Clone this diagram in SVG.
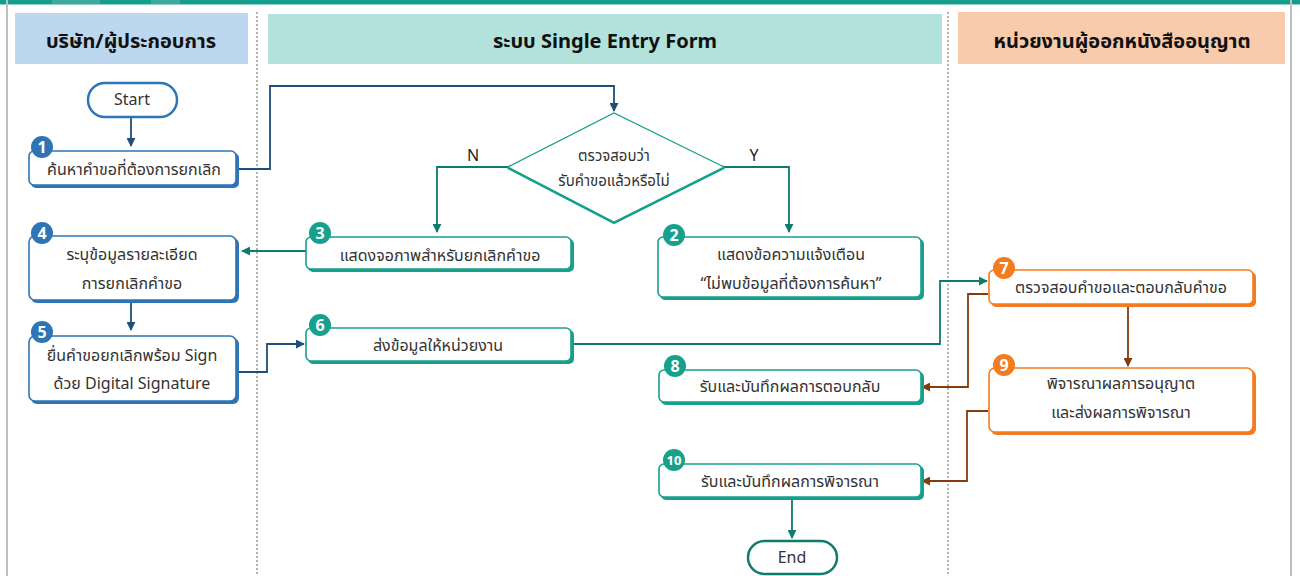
<svg xmlns="http://www.w3.org/2000/svg" width="1300" height="576" viewBox="0 0 1300 576">
<defs>
<marker id="mb" viewBox="0 0 10 10" refX="9" refY="5" markerWidth="5" markerHeight="5" orient="auto"><path d="M0,0 L10,5 L0,10 z" fill="#1f4e79"/></marker>
<marker id="mt" viewBox="0 0 10 10" refX="9" refY="5" markerWidth="5" markerHeight="5" orient="auto"><path d="M0,0 L10,5 L0,10 z" fill="#0f7b6c"/></marker>
<marker id="mo" viewBox="0 0 10 10" refX="9" refY="5" markerWidth="5" markerHeight="5" orient="auto"><path d="M0,0 L10,5 L0,10 z" fill="#843c0c"/></marker>
</defs>
<style>
text{font-family:"Noto Sans","Noto Sans Thai","Liberation Sans",sans-serif;fill:#333;text-anchor:middle;dominant-baseline:central}
.hd{font-size:20px;font-weight:bold;fill:#111}
.t{font-size:16px}
.bn{font-size:16px;font-weight:bold;fill:#fff}
.bs{font-size:13px;font-weight:bold;fill:#fff}
.card{fill:#fff;stroke-width:1.6}
.b .card{stroke:#2e75b6}.b .sh{fill:#2e75b6}.b circle{fill:#2e75b6}
.g .card{stroke:#17a08c}.g .sh{fill:#17a08c}.g circle{fill:#17a08c}
.o .card{stroke:#f47c20}.o .sh{fill:#f47c20}.o circle{fill:#f47c20}
.c{fill:none;stroke-width:1.8}
.cb{stroke:#1f4e79}.ct{stroke:#0f7b6c}.co{stroke:#843c0c}
.div{stroke:#999;stroke-width:1.5;stroke-dasharray:2 2}
</style>
<rect x="0" y="0" width="1300" height="576" fill="#fff"/>
<rect x="0" y="0" width="1300" height="4" fill="#149c8c"/>
<rect x="0" y="4" width="1300" height="1" fill="#8fd3c8"/>
<rect x="52" y="0" width="48" height="4" fill="#3fa99b"/>
<rect x="151" y="0" width="29" height="4" fill="#3fa99b"/>
<rect x="6" y="0" width="2" height="576" fill="#c0c0c0"/>
<rect x="1290" y="0" width="2" height="576" fill="#c0c0c0"/>
<line class="div" x1="257" y1="12" x2="257" y2="576"/>
<line class="div" x1="948" y1="12" x2="948" y2="576"/>

<g id="lane-company"><rect x="15" y="13" width="233" height="51" fill="#bdd7ee"/><text class="hd" x="131" y="40">บริษัท/ผู้ประกอบการ</text></g>
<g id="lane-system"><rect x="268" y="14" width="674" height="50" fill="#b3e2dc"/><text class="hd" x="605" y="40">ระบบ Single Entry Form</text></g>
<g id="lane-agency"><rect x="958" y="12" width="327" height="52" fill="#f8cbad"/><text class="hd" x="1122" y="40">หน่วยงานผู้ออกหนังสืออนุญาต</text></g>

<g id="connectors">
<path class="c cb" d="M131,117 V146" marker-end="url(#mb)"/>
<path class="c cb" d="M237,169 H270 V86 H614 V111" marker-end="url(#mb)"/>
<path class="c ct" d="M508,167 H437 V232" marker-end="url(#mt)"/>
<path class="c ct" d="M724,167 H789 V232" marker-end="url(#mt)"/>
<path class="c ct" d="M306,251 H242" marker-end="url(#mt)"/>
<path class="c cb" d="M131,302 V330" marker-end="url(#mb)"/>
<path class="c cb" d="M239,372 H267 V344 H304" marker-end="url(#mb)"/>
<path class="c ct" d="M574,344 H940 V281 H987" marker-end="url(#mt)"/>
<path class="c co" d="M1128,305 V366" marker-end="url(#mo)"/>
<path class="c co" d="M988,294 H968 V387 H922" marker-end="url(#mo)"/>
<path class="c co" d="M988,411 H967 V481 H922" marker-end="url(#mo)"/>
<path class="c ct" d="M792,499 V538" marker-end="url(#mt)"/>
<text class="t" x="473" y="155" style="fill:#222">N</text>
<text class="t" x="754" y="155" style="fill:#222">Y</text>
</g>

<g id="start"><rect x="88" y="83" width="89" height="34" rx="17" fill="#fff" stroke="#2e75b6" stroke-width="2.5"/><text class="t" x="132" y="99">Start</text></g>

<g id="n1" class="b"><rect class="sh" x="31" y="153" width="208" height="35" rx="5"/><rect class="card" x="29" y="151" width="207" height="34" rx="5"/><circle cx="42" cy="147" r="11"/><text class="bn" x="42" y="147">1</text><text class="t" x="134" y="169">ค้นหาคำขอที่ต้องการยกเลิก</text></g>

<g id="decision"><path d="M508,167 L614,222 L724,167" fill="none" stroke="#17a08c" stroke-width="4"/><path d="M508,167 L614,113 L724,167 L614,222 Z" fill="#fff" stroke="#17a08c" stroke-width="1.2"/><text class="t" x="614" y="155" style="font-size:15px">ตรวจสอบว่า</text><text class="t" x="614" y="180" style="font-size:15px">รับคำขอแล้วหรือไม่</text></g>

<g id="n3" class="g"><rect class="sh" x="308" y="239" width="266" height="33" rx="5"/><rect class="card" x="306" y="237" width="265" height="32" rx="5"/><circle cx="320" cy="233" r="11"/><text class="bn" x="320" y="233">3</text><text class="t" x="440" y="255">แสดงจอภาพสำหรับยกเลิกคำขอ</text></g>

<g id="n2" class="g"><rect class="sh" x="660" y="239" width="264" height="61" rx="5"/><rect class="card" x="658" y="237" width="263" height="60" rx="5"/><circle cx="674" cy="235" r="11"/><text class="bn" x="674" y="235">2</text><text class="t" x="791" y="254">แสดงข้อความแจ้งเตือน</text><text class="t" x="791" y="283">“ไม่พบข้อมูลที่ต้องการค้นหา”</text></g>

<g id="n4" class="b"><rect class="sh" x="31" y="238" width="208" height="65" rx="6"/><rect class="card" x="29" y="236" width="207" height="64" rx="6"/><circle cx="42" cy="233" r="11"/><text class="bn" x="42" y="233">4</text><text class="t" x="132" y="254">ระบุข้อมูลรายละเอียด</text><text class="t" x="132" y="283">การยกเลิกคำขอ</text></g>

<g id="n5" class="b"><rect class="sh" x="31" y="338" width="208" height="66" rx="6"/><rect class="card" x="29" y="336" width="207" height="65" rx="6"/><circle cx="42" cy="332" r="11"/><text class="bn" x="42" y="332">5</text><text class="t" x="132" y="355">ยื่นคำขอยกเลิกพร้อม Sign</text><text class="t" x="132" y="383">ด้วย Digital Signature</text></g>

<g id="n6" class="g"><rect class="sh" x="308" y="330" width="266" height="34" rx="5"/><rect class="card" x="306" y="328" width="265" height="33" rx="5"/><circle cx="320" cy="325" r="11"/><text class="bn" x="320" y="325">6</text><text class="t" x="438" y="345">ส่งข้อมูลให้หน่วยงาน</text></g>

<g id="n7" class="o"><rect class="sh" x="991" y="272" width="265" height="35" rx="5"/><rect class="card" x="989" y="270" width="264" height="34" rx="5"/><circle cx="1004" cy="268" r="11"/><text class="bn" x="1004" y="268">7</text><text class="t" x="1121" y="287">ตรวจสอบคำขอและตอบกลับคำขอ</text></g>

<g id="n8" class="g"><rect class="sh" x="661" y="372" width="263" height="33" rx="5"/><rect class="card" x="659" y="370" width="262" height="32" rx="5"/><circle cx="675" cy="366" r="11"/><text class="bn" x="675" y="366">8</text><text class="t" x="790" y="386">รับและบันทึกผลการตอบกลับ</text></g>

<g id="n9" class="o"><rect class="sh" x="991" y="370" width="265" height="65" rx="6"/><rect class="card" x="989" y="368" width="264" height="64" rx="6"/><circle cx="1004" cy="365" r="11"/><text class="bn" x="1004" y="365">9</text><text class="t" x="1121" y="383">พิจารณาผลการอนุญาต</text><text class="t" x="1121" y="412">และส่งผลการพิจารณา</text></g>

<g id="n10" class="g"><rect class="sh" x="661" y="466" width="263" height="34" rx="5"/><rect class="card" x="659" y="464" width="262" height="33" rx="5"/><circle cx="674" cy="460" r="11"/><text class="bs" x="674" y="460">10</text><text class="t" x="790" y="481">รับและบันทึกผลการพิจารณา</text></g>

<g id="end"><rect x="748" y="541" width="89" height="33" rx="16.5" fill="#fff" stroke="#0f7b6c" stroke-width="2.5"/><text class="t" x="792" y="557">End</text></g>
</svg>
